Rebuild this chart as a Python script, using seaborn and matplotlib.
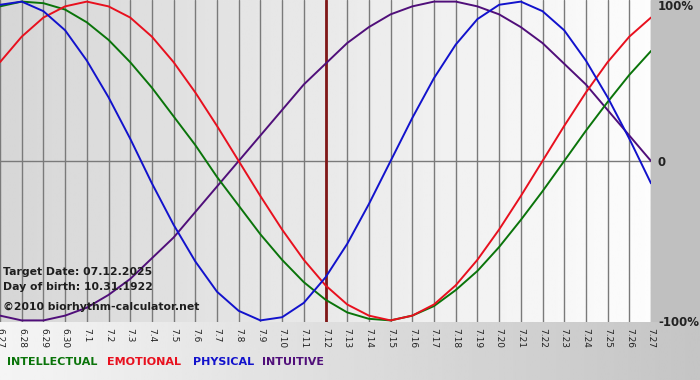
import numpy as np
import pandas as pd
import matplotlib
matplotlib.use("Agg")
import matplotlib.pyplot as plt
import seaborn as sns

# days shown on the chart
dates = ["6.27", "6.28", "6.29", "6.30", "7.1", "7.2", "7.3", "7.4", "7.5", "7.6",
         "7.7", "7.8", "7.9", "7.10", "7.11", "7.12", "7.13", "7.14", "7.15", "7.16",
         "7.17", "7.18", "7.19", "7.20", "7.21", "7.22", "7.23", "7.24", "7.25", "7.26",
         "7.27"]
target_day = "7.12"

# cycle values per day (-1 .. 1)
intellectual = [0.97, 1.00, 0.99, 0.95, 0.87, 0.76, 0.62, 0.46, 0.28, 0.10,
                -0.10, -0.28, -0.46, -0.62, -0.76, -0.87, -0.95, -0.99, -1.00, -0.97,
                -0.91, -0.81, -0.69, -0.54, -0.37, -0.19, 0.00, 0.19, 0.37, 0.54,
                0.69]
emotional = [0.62, 0.78, 0.90, 0.97, 1.00, 0.97, 0.90, 0.78, 0.62, 0.43,
             0.22, 0.00, -0.22, -0.43, -0.62, -0.78, -0.90, -0.97, -1.00, -0.97,
             -0.90, -0.78, -0.62, -0.43, -0.22, 0.00, 0.22, 0.43, 0.62, 0.78,
             0.90]
physical = [0.98, 1.00, 0.94, 0.82, 0.63, 0.40, 0.14, -0.14, -0.40, -0.63,
            -0.82, -0.94, -1.00, -0.98, -0.89, -0.73, -0.52, -0.27, 0.00, 0.27,
            0.52, 0.73, 0.89, 0.98, 1.00, 0.94, 0.82, 0.63, 0.40, 0.14,
            -0.14]
intuitive = [-0.97, -1.00, -1.00, -0.97, -0.92, -0.84, -0.74, -0.61, -0.48, -0.32,
             -0.16, 0.00, 0.16, 0.32, 0.48, 0.61, 0.74, 0.84, 0.92, 0.97,
             1.00, 1.00, 0.97, 0.92, 0.84, 0.74, 0.61, 0.48, 0.32, 0.16,
             0.00]

series_names = ["INTELLECTUAL", "EMOTIONAL", "PHYSICAL", "INTUITIVE"]
colors = {"INTELLECTUAL": "#0a740a", "EMOTIONAL": "#e8101e",
          "PHYSICAL": "#1212cc", "INTUITIVE": "#500f7a"}

rows = []
for name, vals in zip(series_names, [intellectual, emotional, physical, intuitive]):
    for i, v in enumerate(vals):
        rows.append({"day": i, "value": v, "cycle": name})
df = pd.DataFrame(rows)

sns.set_style("white")
plt.rcParams['font.family'] = ['DejaVu Sans']

W, H = 700, 380
fig = plt.figure(figsize=(W / 100, H / 100), dpi=100)

# figure background gradient
bg = fig.add_axes([0, 0, 1, 1])
bg.axis("off")
grad = np.linspace(0.96, 0.77, 256).reshape(1, -1)
bg.imshow(grad, cmap="gray", vmin=0, vmax=1, aspect="auto", extent=[0, 1, 0, 1])
bg.add_patch(plt.Rectangle((651 / W, 1 - 322 / H), 49 / W, 322 / H, color="#c0c0c0", lw=0))
bg.set_xlim(0, 1)
bg.set_ylim(0, 1)

ax = fig.add_axes([0, 1 - 322 / H, 651 / W, 322 / H])
n = len(dates)
ax.set_xlim(0, n - 1)
ax.set_ylim(-1.01, 1.01)

# plot area gradient
pgrad = np.linspace(0.84, 0.99, 256).reshape(1, -1)
ax.imshow(pgrad, cmap="gray", vmin=0, vmax=1, aspect="auto",
          extent=[0, n - 1, -1.01, 1.01], zorder=0)

for i in range(n):
    ax.axvline(i, color="#7a7a7a", lw=1, zorder=1)
ax.axhline(0, color="#7a7a7a", lw=1, zorder=1)
ax.axvline(dates.index(target_day), color="#801818", lw=2, zorder=2)

sns.lineplot(data=df, x="day", y="value", hue="cycle", palette=colors,
             hue_order=["INTUITIVE", "INTELLECTUAL", "EMOTIONAL", "PHYSICAL"],
             lw=1.4, sort=True, legend=False, ax=ax, zorder=3)

ax.set_xlabel("")
ax.set_ylabel("")
ax.set_yticks([])
ax.set_xticks(range(n))
ax.set_xticklabels(dates, rotation=-90, fontsize=6.5, color="#222222")
ax.tick_params(axis="x", length=3, color="#777777", pad=1)
for s in ax.spines.values():
    s.set_visible(False)

# right side scale labels
lab_kw = dict(fontsize=8.5, fontweight="bold", color="#222222", ha="left", va="center")
fig.text(658 / W, 1 - 7 / H, "100%", **lab_kw)
fig.text(658 / W, 1 - 162 / H, "0", **lab_kw)
fig.text(658 / W, 1 - 322 / H, "-100%", **lab_kw)

# info text
info_kw = dict(fontsize=7.8, fontweight="bold", color="#1e1e1e", ha="left", va="center")
fig.text(3 / W, 1 - 272 / H, "Target Date: 07.12.2025", **info_kw)
fig.text(3 / W, 1 - 287 / H, "Day of birth: 10.31.1922", **info_kw)
fig.text(3 / W, 1 - 307 / H, "\u00a92010 biorhythm-calculator.net", **info_kw)

# bottom legend
leg_x = [7, 107, 193, 262]
for name, x in zip(series_names, leg_x):
    fig.text(x / W, 1 - 362 / H, name, fontsize=8, fontweight="bold",
             color=colors[name], ha="left", va="center")

fig.savefig("out.png", dpi=100)
